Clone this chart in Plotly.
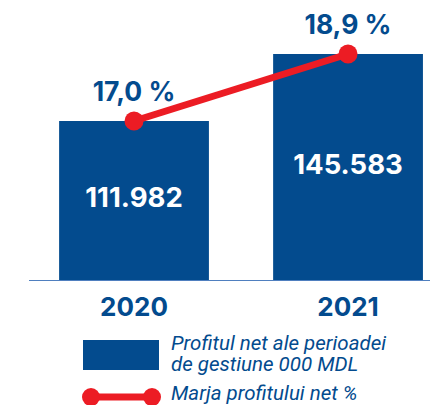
import plotly.graph_objects as go

years = ["2020", "2021"]
profit = [111982, 145583]
profit_labels = ["111.982", "145.583"]
margin_pct = [17.0, 18.9]
margin_labels = ["17,0 %", "18,9 %"]
legend_bar = ["Profitul net ale perioadei", "de gestiune 000 MDL"]
legend_line = "Marja profitului net %"

BLUE = "#034B8E"
RED = "#EC1C24"
FONT = "Inter"
LFONT = "Roboto"

W, H = 430, 405
L, R, T, B = 29, 0, 0, 125
PW, PH = W - L - R, H - T - B
Y0, Y1 = 32244, 172664


def px(x):
    return (x - L) / PW


def py(y):
    return (H - B - y) / PH


fig = go.Figure()
fig.add_trace(go.Bar(
    x=[0, 1], y=profit, width=0.70, marker=dict(color=BLUE, line=dict(width=0)),
    hoverinfo="skip", showlegend=False,
))
# value labels centred in the visible part of each bar
fig.add_trace(go.Scatter(
    x=[0, 1], y=[(Y0 + v) / 2 for v in profit], mode="text", text=profit_labels,
    textposition="middle center",
    textfont=dict(family=FONT, size=27.5, color="white", weight="bold"),
    hoverinfo="skip", showlegend=False,
))
fig.add_trace(go.Scatter(
    x=[0, 1], y=margin_pct, yaxis="y2", mode="lines+markers+text",
    line=dict(color=RED, width=7), marker=dict(color=RED, size=19),
    text=margin_labels, textposition="top center",
    textfont=dict(family=FONT, size=26.5, color=BLUE, weight="bold"),
    cliponaxis=False, showlegend=False, hoverinfo="skip",
))

fig.update_layout(
    width=W, height=H, margin=dict(l=L, r=R, t=T, b=B),
    paper_bgcolor="white", plot_bgcolor="white",
    font=dict(family=FONT, color=BLUE),
    xaxis=dict(range=[-0.4907, 1.383], tickmode="array", tickvals=[0, 1], ticktext=years,
               tickfont=dict(family=FONT, size=26, color=BLUE, weight="bold"),
               showline=True, linecolor="#4F7FBF", linewidth=1, showgrid=False,
               zeroline=False, ticks="", ticklabelstandoff=4),
    yaxis=dict(range=[Y0, Y1], visible=False, showgrid=False, zeroline=False),
    yaxis2=dict(range=[12.491, 20.431], overlaying="y", visible=False, showgrid=False, zeroline=False),
)

# legend drawn by hand
fig.add_shape(type="rect", xref="paper", yref="paper", x0=px(83), x1=px(159), y0=py(370), y1=py(340),
              fillcolor=BLUE, line=dict(width=0))
fig.add_shape(type="line", xref="paper", yref="paper", x0=px(91), x1=px(152), y0=py(397), y1=py(397),
              line=dict(color=RED, width=7))
for cx in (91, 152):
    fig.add_shape(type="circle", xref="paper", yref="paper", x0=px(cx - 9), x1=px(cx + 9),
                  y0=py(397 + 9), y1=py(397 - 9), fillcolor=RED, line=dict(width=0))

# two-line legend entry: base size sets line spacing (1.3 em ~ 21 px), span sets glyph size
span = "<span style='font-size:20.5px'><i>{}</i></span>"
fig.add_annotation(text="<br>".join(span.format(t) for t in legend_bar),
                   xref="paper", yref="paper", x=px(169), y=py(353.5),
                   xanchor="left", yanchor="middle", align="left", showarrow=False,
                   font=dict(family=LFONT, size=16.2, color=BLUE))
fig.add_annotation(text="<i>" + legend_line + "</i>", xref="paper", yref="paper", x=px(169), y=py(393),
                   xanchor="left", yanchor="middle", showarrow=False,
                   font=dict(family=LFONT, size=20.5, color=BLUE))

fig.write_html("out.html", config={"displayModeBar": False},
               post_script="document.body.style.margin='0';")
